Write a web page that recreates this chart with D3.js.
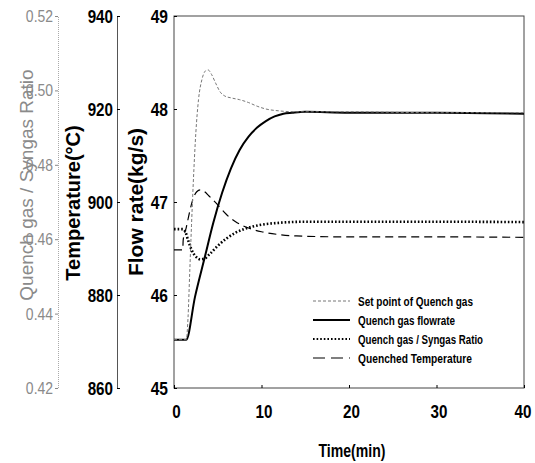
<!DOCTYPE html>
<html>
<head>
<meta charset="utf-8">
<script src="https://cdn.jsdelivr.net/npm/d3@7"></script>
<style>
  body { margin: 0; background: #fff; }
  svg { display: block; font-family: "Liberation Sans", Arial, sans-serif; }
</style>
</head>
<body>
<div id="chart"></div>
<script>
// axis ticks
var timeTicks = [0, 10, 20, 30, 40];
var flowTicks = [45, 46, 47, 48, 49];
var tempTicks = [860, 880, 900, 920, 940];
var ratioTicks = [0.42, 0.44, 0.46, 0.48, 0.50, 0.52];

// set point of quench gas (kg/s)
var setTime = [0, 1.4, 1.6, 1.8, 2.0, 2.2, 2.5, 2.8, 3.2, 3.6, 3.9, 4.3, 4.8, 5.3, 5.8, 6.5, 7.5, 8.5, 9.5, 10.5, 12, 14, 20, 30, 40];
var setFlow = [45.52, 45.52, 45.75, 46.25, 46.75, 47.2, 47.75, 48.1, 48.32, 48.41, 48.42, 48.37, 48.27, 48.18, 48.14, 48.12, 48.10, 48.07, 48.03, 48.00, 47.98, 47.97, 47.97, 47.96, 47.96];

// quench gas flow rate (kg/s)
var flowTime = [0, 1.4, 2.4, 3.5, 4.5, 5.5, 6.5, 7.5, 8.5, 9.5, 10.5, 11.5, 12.5, 13.5, 15, 20, 30, 40];
var flowRate = [45.52, 45.52, 45.98, 46.40, 46.78, 47.10, 47.36, 47.56, 47.70, 47.80, 47.87, 47.92, 47.95, 47.96, 47.97, 47.96, 47.96, 47.95];

// quench gas / syngas ratio
var ratioTime = [0, 1.0, 1.3, 1.6, 2.0, 2.5, 3.0, 3.5, 4.0, 5.0, 6.0, 7.0, 8.0, 9.0, 10, 12, 15, 20, 30, 40];
var ratioVal = [0.4627, 0.4627, 0.4620, 0.4598, 0.4572, 0.4553, 0.4546, 0.4548, 0.4558, 0.4582, 0.4602, 0.4617, 0.4627, 0.4634, 0.4639, 0.4644, 0.4647, 0.4647, 0.4647, 0.4646];

// quenched temperature (C)
var tempTime = [0, 1.0, 1.05, 1.4, 1.8, 2.2, 2.6, 3.0, 3.5, 4.0, 5.0, 6.0, 7.0, 8.0, 9.0, 10, 12, 14, 20, 30, 40];
var tempVal = [889.7, 889.7, 891.8, 894.5, 898.0, 900.8, 902.2, 902.6, 902.2, 901.3, 899.4, 897.3, 895.8, 894.8, 894.1, 893.6, 893.0, 892.7, 892.5, 892.5, 892.4];

var legendNames = ["Set point of Quench gas", "Quench gas flowrate", "Quench gas / Syngas Ratio", "Quenched Temperature"];

var width = 535, height = 463;
var plot = { left: 174, right: 524, top: 16, bottom: 388 };

// squeeze text horizontally (no narrow font installed)
function condense(sel, k) {
  sel.each(function () {
    var w = this.getComputedTextLength();
    d3.select(this).attr("textLength", w * k).attr("lengthAdjust", "spacingAndGlyphs");
  });
}

var svg = d3.select("#chart").append("svg")
  .attr("width", width)
  .attr("height", height);

// scales
var x = d3.scaleLinear().domain([0, 40]).range([plot.left, plot.right]);
var yFlow = d3.scaleLinear().domain([45, 49]).range([plot.bottom, plot.top]);
var yTemp = d3.scaleLinear().domain([860, 940]).range([plot.bottom, plot.top]);
var yRatio = d3.scaleLinear().domain([0.42, 0.52]).range([plot.bottom, plot.top]);

// frame
svg.append("rect")
  .attr("x", plot.left).attr("y", plot.top)
  .attr("width", plot.right - plot.left).attr("height", plot.bottom - plot.top)
  .attr("fill", "none").attr("stroke", "#444").attr("stroke-width", 1);

// x axis
var xAxis = svg.append("g")
  .attr("transform", "translate(0," + plot.bottom + ")")
  .call(d3.axisBottom(x).tickValues(timeTicks).tickSize(-3).tickPadding(17));
xAxis.select(".domain").remove();
xAxis.selectAll("text")
  .attr("dx", function (d) { return d == 40 ? -1.5 : 2; })
  .style("font-size", "19px").style("font-weight", "bold")
  .attr("fill", "#000")
  .call(condense, 0.8);

// flow axis
var flowAxis = svg.append("g")
  .attr("transform", "translate(" + plot.left + ",0)")
  .call(d3.axisLeft(yFlow).tickValues(flowTicks).tickSize(-3).tickPadding(6).tickFormat(d3.format("d")));
flowAxis.select(".domain").remove();
flowAxis.selectAll("text")
  .style("font-size", "19px").style("font-weight", "bold")
  .attr("fill", "#000")
  .call(condense, 0.82);

// temperature axis
var tempAxis = svg.append("g")
  .attr("transform", "translate(117,0)")
  .call(d3.axisLeft(yTemp).tickValues(tempTicks).tickSize(-3).tickPadding(4));
tempAxis.select(".domain").attr("stroke", "#555");
tempAxis.selectAll("text")
  .style("font-size", "19px").style("font-weight", "bold")
  .attr("fill", "#000")
  .call(condense, 0.8);

// ratio axis
var ratioAxis = svg.append("g")
  .attr("transform", "translate(58,0)")
  .call(d3.axisLeft(yRatio).tickValues(ratioTicks).tickSize(3).tickPadding(2).tickFormat(d3.format(".2f")));
ratioAxis.select(".domain").attr("stroke", "#aaa").attr("stroke-dasharray", "1,1");
ratioAxis.selectAll(".tick line").attr("stroke", "#888");
ratioAxis.selectAll("text")
  .style("font-size", "17px")
  .attr("fill", "#8a8a8a")
  .call(condense, 0.82);

// axis titles
svg.append("text")
  .attr("transform", "translate(33,185) rotate(-90)")
  .attr("text-anchor", "middle")
  .style("font-size", "19px")
  .attr("fill", "#8a8a8a")
  .text("Quench gas / Syngas Ratio");

svg.append("text")
  .attr("transform", "translate(80,203) rotate(-90)")
  .attr("text-anchor", "middle")
  .style("font-size", "20px").style("font-weight", "bold")
  .text("Temperature(\u00B0C)");

svg.append("text")
  .attr("transform", "translate(143,202) rotate(-90)")
  .attr("text-anchor", "middle")
  .style("font-size", "21px").style("font-weight", "bold")
  .text("Flow rate(kg/s)");

svg.append("text")
  .attr("x", 352).attr("y", 457)
  .attr("text-anchor", "middle")
  .style("font-size", "19px").style("font-weight", "bold")
  .text("Time(min)")
  .call(condense, 0.74);

// lines
function makeLine(times, vals, yScale) {
  var pts = times.map(function (t, i) { return [t, vals[i]]; });
  return d3.line()
    .x(function (d) { return x(d[0]); })
    .y(function (d) { return yScale(d[1]); })
    .curve(d3.curveMonotoneX)(pts);
}

var styles = [
  { stroke: "#777", width: 1, dash: "3,2" },
  { stroke: "#000", width: 2, dash: null },
  { stroke: "#000", width: 2.6, dash: "1.6,2" },
  { stroke: "#000", width: 1.2, dash: "8,5" }
];

svg.append("path")
  .attr("d", makeLine(tempTime, tempVal, yTemp))
  .attr("fill", "none").attr("stroke", styles[3].stroke)
  .attr("stroke-width", styles[3].width).attr("stroke-dasharray", styles[3].dash);

svg.append("path")
  .attr("d", makeLine(ratioTime, ratioVal, yRatio))
  .attr("fill", "none").attr("stroke", styles[2].stroke)
  .attr("stroke-width", styles[2].width).attr("stroke-dasharray", styles[2].dash);

svg.append("path")
  .attr("d", makeLine(flowTime, flowRate, yFlow))
  .attr("fill", "none").attr("stroke", styles[1].stroke)
  .attr("stroke-width", styles[1].width);

svg.append("path")
  .attr("d", makeLine(setTime, setFlow, yFlow))
  .attr("fill", "none").attr("stroke", styles[0].stroke)
  .attr("stroke-width", styles[0].width).attr("stroke-dasharray", styles[0].dash);

// legend
var legendWidths = [115, 97, 125, 114];
var legend = svg.append("g").attr("transform", "translate(313,301)");
legendNames.forEach(function (name, i) {
  var row = legend.append("g").attr("transform", "translate(0," + (i * 19) + ")");
  row.append("line")
    .attr("x1", 0).attr("x2", 37).attr("y1", 0).attr("y2", 0)
    .attr("stroke", styles[i].stroke)
    .attr("stroke-width", i == 2 ? 2 : styles[i].width)
    .attr("stroke-dasharray", i == 3 ? "12,6" : styles[i].dash);
  row.append("text")
    .attr("x", 45).attr("y", 4.5)
    .style("font-size", "13.5px").style("font-weight", "bold")
    .attr("textLength", legendWidths[i])
    .attr("lengthAdjust", "spacingAndGlyphs")
    .text(name);
});
</script>
</body>
</html>
